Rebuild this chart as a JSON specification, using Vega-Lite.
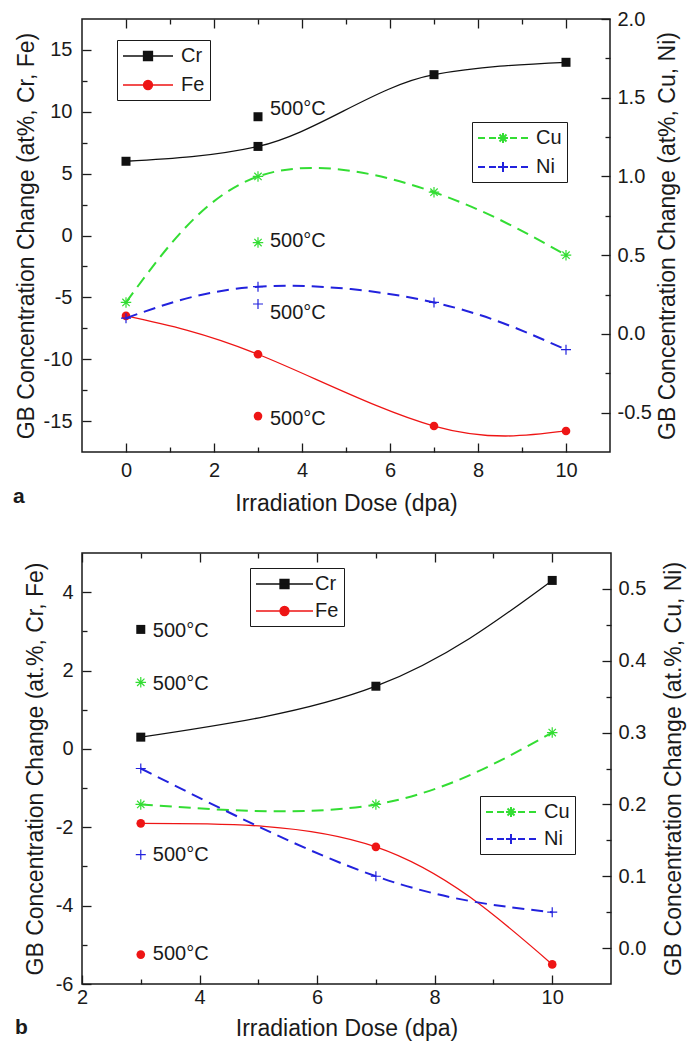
{
  "$schema": "https://vega.github.io/schema/vega-lite/v6.json",
  "background": "white",
  "padding": {"left": 12, "top": 8, "right": 0, "bottom": 0},
  "bounds": "flush",
  "spacing": 101,
  "config": {
    "font": "Liberation Sans",
    "view": {"stroke": "#1a1a1a", "strokeWidth": 1.5},
    "axis": {
      "labelFont": "Liberation Sans", "labelFontSize": 20, "labelColor": "#1a1a1a",
      "titleFont": "Liberation Sans", "titleFontSize": 23, "titleFontWeight": "normal", "titleColor": "#1a1a1a",
      "grid": false, "domain": false, "tickColor": "#1a1a1a", "tickWidth": 1.3,
      "labelOverlap": false, "labelFlush": false, "labelBound": false
    },
    "legend": {"labelFont": "Liberation Sans", "labelFontSize": 20, "labelColor": "#1a1a1a"}
  },
  "datasets": {
    "a": [
      {"el": "Cr", "dose": 0, "val": 6.0, "kind": "irr"},
      {"el": "Cr", "dose": 3, "val": 7.2, "kind": "irr"},
      {"el": "Cr", "dose": 7, "val": 13.0, "kind": "irr"},
      {"el": "Cr", "dose": 10, "val": 14.0, "kind": "irr"},
      {"el": "Cr", "dose": 3, "val": 9.6, "kind": "t500"},
      {"el": "Fe", "dose": 0, "val": -6.5, "kind": "irr"},
      {"el": "Fe", "dose": 3, "val": -9.6, "kind": "irr"},
      {"el": "Fe", "dose": 7, "val": -15.4, "kind": "irr"},
      {"el": "Fe", "dose": 10, "val": -15.8, "kind": "irr"},
      {"el": "Fe", "dose": 3, "val": -14.6, "kind": "t500"},
      {"el": "Cu", "dose": 0, "val": 0.2, "kind": "irr"},
      {"el": "Cu", "dose": 3, "val": 1.0, "kind": "irr"},
      {"el": "Cu", "dose": 7, "val": 0.9, "kind": "irr"},
      {"el": "Cu", "dose": 10, "val": 0.5, "kind": "irr"},
      {"el": "Cu", "dose": 3, "val": 0.58, "kind": "t500"},
      {"el": "Ni", "dose": 0, "val": 0.1, "kind": "irr"},
      {"el": "Ni", "dose": 3, "val": 0.3, "kind": "irr"},
      {"el": "Ni", "dose": 7, "val": 0.2, "kind": "irr"},
      {"el": "Ni", "dose": 10, "val": -0.1, "kind": "irr"},
      {"el": "Ni", "dose": 3, "val": 0.19, "kind": "t500"},
      {"el": "Cr", "dose": 3, "val": 10.2, "kind": "lab", "txt": "500°C"},
      {"el": "Fe", "dose": 3, "val": -14.8, "kind": "lab", "txt": "500°C"},
      {"el": "Cu", "dose": 3, "val": 0.59, "kind": "lab", "txt": "500°C"},
      {"el": "Ni", "dose": 3, "val": 0.13, "kind": "lab", "txt": "500°C"}
    ],
    "b": [
      {"el": "Cr", "dose": 3, "val": 0.3, "kind": "irr"},
      {"el": "Cr", "dose": 7, "val": 1.6, "kind": "irr"},
      {"el": "Cr", "dose": 10, "val": 4.3, "kind": "irr"},
      {"el": "Cr", "dose": 3, "val": 3.05, "kind": "t500"},
      {"el": "Fe", "dose": 3, "val": -1.9, "kind": "irr"},
      {"el": "Fe", "dose": 7, "val": -2.5, "kind": "irr"},
      {"el": "Fe", "dose": 10, "val": -5.5, "kind": "irr"},
      {"el": "Fe", "dose": 3, "val": -5.25, "kind": "t500"},
      {"el": "Cu", "dose": 3, "val": 0.2, "kind": "irr"},
      {"el": "Cu", "dose": 7, "val": 0.2, "kind": "irr"},
      {"el": "Cu", "dose": 10, "val": 0.3, "kind": "irr"},
      {"el": "Cu", "dose": 3, "val": 0.37, "kind": "t500"},
      {"el": "Ni", "dose": 3, "val": 0.25, "kind": "irr"},
      {"el": "Ni", "dose": 7, "val": 0.1, "kind": "irr"},
      {"el": "Ni", "dose": 10, "val": 0.05, "kind": "irr"},
      {"el": "Ni", "dose": 3, "val": 0.13, "kind": "t500"},
      {"el": "Cr", "dose": 3, "val": 3.0, "kind": "lab", "txt": "500°C"},
      {"el": "Fe", "dose": 3, "val": -5.23, "kind": "lab", "txt": "500°C"},
      {"el": "Cu", "dose": 3, "val": 0.367, "kind": "lab", "txt": "500°C"},
      {"el": "Ni", "dose": 3, "val": 0.13, "kind": "lab", "txt": "500°C"}
    ]
  },
  "vconcat": [
    {
      "width": 528, "height": 433,
      "data": {"name": "a"},
      "title": {"text": "a", "orient": "bottom", "anchor": "start", "frame": "group", "dx": -69, "offset": -29, "fontSize": 21, "fontWeight": "bold", "font": "Liberation Sans", "color": "#1a1a1a"},
      "layer": [
        {
          "encoding": {
            "x": {"field": "dose", "type": "quantitative", "scale": {"domain": [-1, 11], "nice": false, "zero": false},
              "axis": {"orient": "bottom", "title": "Irradiation Dose (dpa)", "values": [0,1,2,3,4,5,6,7,8,9,10],
                "labelExpr": "datum.value % 2 === 0 ? toString(datum.value) : ''",
                "tickSize": {"condition": {"test": "datum.value % 2 !== 0", "value": -5}, "value": -9},
                "labelPadding": 17, "titlePadding": 8}},
            "y": {"field": "val", "type": "quantitative", "scale": {"domain": [-17.5, 17.5], "nice": false, "zero": false},
              "axis": {"orient": "left", "title": "GB Concentration Change (at%, Cr, Fe)",
                "values": [-15,-12.5,-10,-7.5,-5,-2.5,0,2.5,5,7.5,10,12.5,15],
                "labelExpr": "datum.value % 5 === 0 ? toString(datum.value) : ''",
                "tickSize": {"condition": {"test": "datum.value % 5 !== 0", "value": -5}, "value": -9},
                "labelPadding": 19, "titlePadding": 5}}
          },
          "layer": [
            {"transform": [{"filter": "datum.el === 'Cr' && datum.kind === 'irr'"}], "mark": {"type": "line", "interpolate": "monotone", "color": "#111111", "strokeWidth": 1.3}, "encoding": {}},
            {"transform": [{"filter": "datum.el === 'Fe' && datum.kind === 'irr'"}], "mark": {"type": "line", "interpolate": "natural", "color": "#ee1515", "strokeWidth": 1.3}, "encoding": {}},
            {"transform": [{"filter": "datum.el === 'Cr' && datum.kind !== 'lab'"}], "mark": {"type": "point", "shape": "square", "filled": true, "size": 81, "color": "#111111", "opacity": 1}},
            {"transform": [{"filter": "datum.el === 'Fe' && datum.kind !== 'lab'"}], "mark": {"type": "point", "shape": "circle", "filled": true, "size": 75, "color": "#ee1515", "opacity": 1}},
            {"transform": [{"filter": "(datum.el === 'Cr' || datum.el === 'Fe') && datum.kind === 'lab'"}], "mark": {"type": "text", "align": "left", "baseline": "middle", "dx": 12, "fontSize": 20, "font": "Liberation Sans", "color": "#1a1a1a"}, "encoding": {"text": {"field": "txt"}}},
            {"transform": [{"filter": "false"}], "mark": {"type": "point", "filled": true, "opacity": 1},
              "encoding": {
                "color": {"field": "el", "type": "nominal", "scale": {"domain": ["Cr", "Fe"], "range": ["#111111", "#ee1515"]},
                  "legend": {"title": null, "orient": "none", "legendX": 35, "legendY": 21, "strokeColor": "#1a1a1a", "fillColor": "white", "padding": 5, "rowPadding": 8, "symbolSize": 400, "symbolStrokeWidth": 1.3, "labelOffset": 37, "labelFontSize": 20}},
                "stroke": {"field": "el", "type": "nominal", "scale": {"domain": ["Cr", "Fe"], "range": ["#111111", "#ee1515"]},
                  "legend": {"title": null, "orient": "none", "legendX": 35, "legendY": 21, "strokeColor": "#1a1a1a", "fillColor": "white", "padding": 5, "rowPadding": 8, "symbolSize": 400, "symbolStrokeWidth": 1.3, "labelOffset": 37, "labelFontSize": 20}},
                "shape": {"field": "el", "type": "nominal", "scale": {"domain": ["Cr", "Fe"], "range": ["M-1,0H4M1.05,-0.45H1.95V0.45H1.05Z", "M-1,0H4M1.95,0A0.45,0.45,0,1,1,1.05,0A0.45,0.45,0,1,1,1.95,0Z"]},
                  "legend": {"title": null, "orient": "none", "legendX": 35, "legendY": 21, "strokeColor": "#1a1a1a", "fillColor": "white", "padding": 5, "rowPadding": 8, "symbolSize": 400, "symbolStrokeWidth": 1.3, "labelOffset": 37, "labelFontSize": 20}}
              }}
          ]
        },
        {
          "encoding": {
            "x": {"field": "dose", "type": "quantitative", "scale": {"domain": [-1, 11], "nice": false, "zero": false},
              "axis": {"orient": "top", "title": null, "labels": false, "values": [0,1,2,3,4,5,6,7,8,9,10],
                "tickSize": {"condition": {"test": "datum.value % 2 !== 0", "value": -5}, "value": -9}}},
            "y": {"field": "val", "type": "quantitative", "scale": {"domain": [-0.75, 2.0], "nice": false, "zero": false},
              "axis": {"orient": "right", "title": "GB Concentration Change (at%, Cu, Ni)", "titleAngle": 270, "titleBaseline": "top",
                "values": [-0.5,-0.25,0,0.25,0.5,0.75,1,1.25,1.5,1.75,2],
                "labelExpr": "datum.value % 0.5 === 0 ? replace(format(datum.value, '.1f'), '−', '-') : ''",
                "tickSize": {"condition": {"test": "datum.value % 0.5 !== 0", "value": -5}, "value": -9},
                "labelPadding": 16, "titlePadding": 5}}
          },
          "layer": [
            {"transform": [{"filter": "datum.el === 'Cu' && datum.kind === 'irr'"}], "mark": {"type": "line", "interpolate": "natural", "color": "#33dd33", "strokeWidth": 2, "strokeDash": [12, 7]}, "encoding": {}},
            {"transform": [{"filter": "datum.el === 'Ni' && datum.kind === 'irr'"}], "mark": {"type": "line", "interpolate": "natural", "color": "#2222dd", "strokeWidth": 2, "strokeDash": [12, 7]}, "encoding": {}},
            {"transform": [{"filter": "datum.el === 'Cu' && datum.kind !== 'lab'"}], "mark": {"type": "point", "shape": "M0,-1V1M-1,0H1M-0.7,-0.7L0.7,0.7M-0.7,0.7L0.7,-0.7", "filled": false, "size": 110, "strokeWidth": 1.2, "color": "#33dd33", "opacity": 1}},
            {"transform": [{"filter": "datum.el === 'Ni' && datum.kind !== 'lab'"}], "mark": {"type": "point", "shape": "M0,-1V1M-1,0H1", "filled": false, "size": 100, "strokeWidth": 1.2, "color": "#2222dd", "opacity": 1}},
            {"transform": [{"filter": "(datum.el === 'Cu' || datum.el === 'Ni') && datum.kind === 'lab'"}], "mark": {"type": "text", "align": "left", "baseline": "middle", "dx": 12, "fontSize": 20, "font": "Liberation Sans", "color": "#1a1a1a"}, "encoding": {"text": {"field": "txt"}}},
            {"transform": [{"filter": "false"}], "mark": {"type": "point", "filled": true, "opacity": 1},
              "encoding": {
                "color": {"field": "el", "type": "nominal", "scale": {"domain": ["Cu", "Ni"], "range": ["#33dd33", "#2222dd"]},
                  "legend": {"title": null, "orient": "none", "legendX": 390, "legendY": 103, "strokeColor": "#1a1a1a", "fillColor": "white", "padding": 5, "rowPadding": 8, "symbolSize": 400, "symbolStrokeWidth": 2, "labelOffset": 37, "labelFontSize": 20}},
                "stroke": {"field": "el", "type": "nominal", "scale": {"domain": ["Cu", "Ni"], "range": ["#33dd33", "#2222dd"]},
                  "legend": {"title": null, "orient": "none", "legendX": 390, "legendY": 103, "strokeColor": "#1a1a1a", "fillColor": "white", "padding": 5, "rowPadding": 8, "symbolSize": 400, "symbolStrokeWidth": 2, "labelOffset": 37, "labelFontSize": 20}},
                "shape": {"field": "el", "type": "nominal", "scale": {"domain": ["Cu", "Ni"], "range": ["M-1,0H-0.3M0.1,0H0.8M2.2,0H2.9M3.3,0H4M1.5,-0.5V0.5M1,0H2M1.15,-0.35L1.85,0.35M1.15,0.35L1.85,-0.35", "M-1,0H-0.3M0.1,0H0.8M2.2,0H2.9M3.3,0H4M1.5,-0.5V0.5M1,0H2"]},
                  "legend": {"title": null, "orient": "none", "legendX": 390, "legendY": 103, "strokeColor": "#1a1a1a", "fillColor": "white", "padding": 5, "rowPadding": 8, "symbolSize": 400, "symbolStrokeWidth": 2, "labelOffset": 37, "labelFontSize": 20}}
              }}
          ]
        }
      ],
      "resolve": {
        "scale": {"y": "independent", "color": "independent", "stroke": "independent", "shape": "independent"},
        "axis": {"x": "independent", "y": "independent"},
        "legend": {"color": "independent", "stroke": "independent", "shape": "independent"}
      }
    },
    {
      "width": 529, "height": 431,
      "data": {"name": "b"},
      "title": {"text": "b", "orient": "bottom", "anchor": "start", "frame": "group", "dx": -67, "offset": -23, "fontSize": 21, "fontWeight": "bold", "font": "Liberation Sans", "color": "#1a1a1a"},
      "layer": [
        {
          "encoding": {
            "x": {"field": "dose", "type": "quantitative", "scale": {"domain": [2, 11], "nice": false, "zero": false},
              "axis": {"orient": "bottom", "title": "Irradiation Dose (dpa)", "values": [2,3,4,5,6,7,8,9,10],
                "labelExpr": "datum.value % 2 === 0 ? toString(datum.value) : ''",
                "tickSize": {"condition": {"test": "datum.value % 2 !== 0", "value": -5}, "value": -9},
                "labelPadding": 12, "titlePadding": 6}},
            "y": {"field": "val", "type": "quantitative", "scale": {"domain": [-6, 5], "nice": false, "zero": false},
              "axis": {"orient": "left", "title": "GB Concentration Change (at.%, Cr, Fe)",
                "values": [-6,-5,-4,-3,-2,-1,0,1,2,3,4],
                "labelExpr": "datum.value % 2 === 0 ? toString(datum.value) : ''",
                "tickSize": {"condition": {"test": "datum.value % 2 !== 0", "value": -5}, "value": -9},
                "labelPadding": 18, "titlePadding": 8}}
          },
          "layer": [
            {"transform": [{"filter": "datum.el === 'Cr' && datum.kind === 'irr'"}], "mark": {"type": "line", "interpolate": "natural", "color": "#111111", "strokeWidth": 1.3}, "encoding": {}},
            {"transform": [{"filter": "datum.el === 'Fe' && datum.kind === 'irr'"}], "mark": {"type": "line", "interpolate": "natural", "color": "#ee1515", "strokeWidth": 1.3}, "encoding": {}},
            {"transform": [{"filter": "datum.el === 'Cr' && datum.kind !== 'lab'"}], "mark": {"type": "point", "shape": "square", "filled": true, "size": 81, "color": "#111111", "opacity": 1}},
            {"transform": [{"filter": "datum.el === 'Fe' && datum.kind !== 'lab'"}], "mark": {"type": "point", "shape": "circle", "filled": true, "size": 75, "color": "#ee1515", "opacity": 1}},
            {"transform": [{"filter": "(datum.el === 'Cr' || datum.el === 'Fe') && datum.kind === 'lab'"}], "mark": {"type": "text", "align": "left", "baseline": "middle", "dx": 12, "fontSize": 20, "font": "Liberation Sans", "color": "#1a1a1a"}, "encoding": {"text": {"field": "txt"}}},
            {"transform": [{"filter": "false"}], "mark": {"type": "point", "filled": true, "opacity": 1},
              "encoding": {
                "color": {"field": "el", "type": "nominal", "scale": {"domain": ["Cr", "Fe"], "range": ["#111111", "#ee1515"]},
                  "legend": {"title": null, "orient": "none", "legendX": 168, "legendY": 15, "strokeColor": "#1a1a1a", "fillColor": "white", "padding": 5, "rowPadding": 6, "symbolSize": 400, "symbolStrokeWidth": 1.3, "labelOffset": 38, "labelFontSize": 20}},
                "stroke": {"field": "el", "type": "nominal", "scale": {"domain": ["Cr", "Fe"], "range": ["#111111", "#ee1515"]},
                  "legend": {"title": null, "orient": "none", "legendX": 168, "legendY": 15, "strokeColor": "#1a1a1a", "fillColor": "white", "padding": 5, "rowPadding": 6, "symbolSize": 400, "symbolStrokeWidth": 1.3, "labelOffset": 38, "labelFontSize": 20}},
                "shape": {"field": "el", "type": "nominal", "scale": {"domain": ["Cr", "Fe"], "range": ["M-1,0H4.7M1.4,-0.45H2.3V0.45H1.4Z", "M-1,0H4.7M2.3,0A0.45,0.45,0,1,1,1.4,0A0.45,0.45,0,1,1,2.3,0Z"]},
                  "legend": {"title": null, "orient": "none", "legendX": 168, "legendY": 15, "strokeColor": "#1a1a1a", "fillColor": "white", "padding": 5, "rowPadding": 6, "symbolSize": 400, "symbolStrokeWidth": 1.3, "labelOffset": 38, "labelFontSize": 20}}
              }}
          ]
        },
        {
          "encoding": {
            "x": {"field": "dose", "type": "quantitative", "scale": {"domain": [2, 11], "nice": false, "zero": false},
              "axis": {"orient": "top", "title": null, "labels": false, "values": [2,3,4,5,6,7,8,9,10],
                "tickSize": {"condition": {"test": "datum.value % 2 !== 0", "value": -5}, "value": -9}}},
            "y": {"field": "val", "type": "quantitative", "scale": {"domain": [-0.05, 0.55], "nice": false, "zero": false},
              "axis": {"orient": "right", "title": "GB Concentration Change (at.%, Cu, Ni)", "titleAngle": 270, "titleBaseline": "top",
                "values": [0,0.05,0.1,0.15,0.2,0.25,0.3,0.35,0.4,0.45,0.5],
                "labelExpr": "abs(datum.value*10 - round(datum.value*10)) < 0.000001 ? replace(format(datum.value, '.1f'), '−', '-') : ''",
                "tickSize": {"condition": {"test": "abs(datum.value*10 - round(datum.value*10)) > 0.000001", "value": -5}, "value": -9},
                "labelPadding": 16, "titlePadding": 17}}
          },
          "layer": [
            {"transform": [{"filter": "datum.el === 'Cu' && datum.kind === 'irr'"}], "mark": {"type": "line", "interpolate": "natural", "color": "#33dd33", "strokeWidth": 2, "strokeDash": [12, 7]}, "encoding": {}},
            {"transform": [{"filter": "datum.el === 'Ni' && datum.kind === 'irr'"}], "mark": {"type": "line", "interpolate": "natural", "color": "#2222dd", "strokeWidth": 2, "strokeDash": [12, 7]}, "encoding": {}},
            {"transform": [{"filter": "datum.el === 'Cu' && datum.kind !== 'lab'"}], "mark": {"type": "point", "shape": "M0,-1V1M-1,0H1M-0.7,-0.7L0.7,0.7M-0.7,0.7L0.7,-0.7", "filled": false, "size": 110, "strokeWidth": 1.2, "color": "#33dd33", "opacity": 1}},
            {"transform": [{"filter": "datum.el === 'Ni' && datum.kind !== 'lab'"}], "mark": {"type": "point", "shape": "M0,-1V1M-1,0H1", "filled": false, "size": 100, "strokeWidth": 1.2, "color": "#2222dd", "opacity": 1}},
            {"transform": [{"filter": "(datum.el === 'Cu' || datum.el === 'Ni') && datum.kind === 'lab'"}], "mark": {"type": "text", "align": "left", "baseline": "middle", "dx": 12, "fontSize": 20, "font": "Liberation Sans", "color": "#1a1a1a"}, "encoding": {"text": {"field": "txt"}}},
            {"transform": [{"filter": "false"}], "mark": {"type": "point", "filled": true, "opacity": 1},
              "encoding": {
                "color": {"field": "el", "type": "nominal", "scale": {"domain": ["Cu", "Ni"], "range": ["#33dd33", "#2222dd"]},
                  "legend": {"title": null, "orient": "none", "legendX": 398, "legendY": 243, "strokeColor": "#1a1a1a", "fillColor": "white", "padding": 5, "rowPadding": 6, "symbolSize": 400, "symbolStrokeWidth": 2, "labelOffset": 37, "labelFontSize": 20}},
                "stroke": {"field": "el", "type": "nominal", "scale": {"domain": ["Cu", "Ni"], "range": ["#33dd33", "#2222dd"]},
                  "legend": {"title": null, "orient": "none", "legendX": 398, "legendY": 243, "strokeColor": "#1a1a1a", "fillColor": "white", "padding": 5, "rowPadding": 6, "symbolSize": 400, "symbolStrokeWidth": 2, "labelOffset": 37, "labelFontSize": 20}},
                "shape": {"field": "el", "type": "nominal", "scale": {"domain": ["Cu", "Ni"], "range": ["M-1,0H-0.3M0.1,0H0.8M2.2,0H2.9M3.3,0H4M1.5,-0.5V0.5M1,0H2M1.15,-0.35L1.85,0.35M1.15,0.35L1.85,-0.35", "M-1,0H-0.3M0.1,0H0.8M2.2,0H2.9M3.3,0H4M1.5,-0.5V0.5M1,0H2"]},
                  "legend": {"title": null, "orient": "none", "legendX": 398, "legendY": 243, "strokeColor": "#1a1a1a", "fillColor": "white", "padding": 5, "rowPadding": 6, "symbolSize": 400, "symbolStrokeWidth": 2, "labelOffset": 37, "labelFontSize": 20}}
              }}
          ]
        }
      ],
      "resolve": {
        "scale": {"y": "independent", "color": "independent", "stroke": "independent", "shape": "independent"},
        "axis": {"x": "independent", "y": "independent"},
        "legend": {"color": "independent", "stroke": "independent", "shape": "independent"}
      }
    }
  ]
}
